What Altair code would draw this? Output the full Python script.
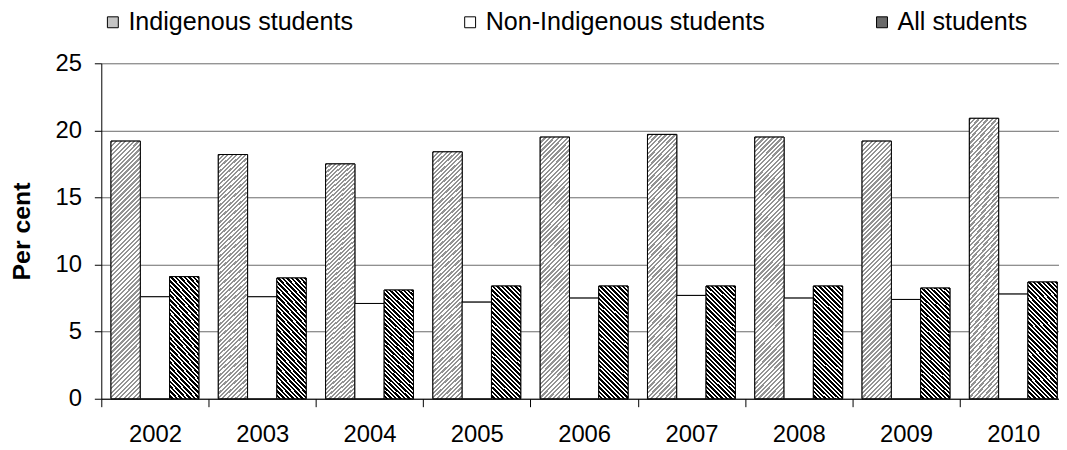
import altair as alt
import pandas as pd

# ---- data ----
years = ["2002", "2003", "2004", "2005", "2006", "2007", "2008", "2009", "2010"]
series = ["Indigenous students", "Non-Indigenous students", "All students"]
indigenous = [19.2, 18.2, 17.5, 18.4, 19.5, 19.7, 19.5, 19.2, 20.9]
non_indigenous = [7.6, 7.6, 7.1, 7.2, 7.5, 7.7, 7.5, 7.4, 7.8]
all_students = [9.1, 9.0, 8.1, 8.4, 8.4, 8.4, 8.4, 8.25, 8.7]
y_ticks = [0, 5, 10, 15, 20, 25]

rows = []
for name, vals in zip(series, [indigenous, non_indigenous, all_students]):
    for yr, v in zip(years, vals):
        rows.append({"Year": yr, "Series": name, "Value": v})
df = pd.DataFrame(rows)

FONT = "Liberation Sans"


def stripes(c1, c2, n, frac1, x1, y1, x2, y2):
    stops = []
    for k in range(n):
        a = round(k / n, 5)
        b = round((k + frac1) / n, 5)
        c = round((k + 1) / n, 5)
        stops += [
            {"offset": a, "color": c1},
            {"offset": b, "color": c1},
            {"offset": b, "color": c2},
            {"offset": c, "color": c2},
        ]
    return {"gradient": "linear", "x1": x1, "y1": y1, "x2": x2, "y2": y2, "stops": stops}


# "/" hatch, light grey on white (tall bars)
grad_ind = stripes("#939393", "#ffffff", 64, 0.5, 0, 0, 0.1252, 1.0996)
# "\" hatch, black on white (short bars)
grad_all = stripes("#000000", "#ffffff", 32, 0.55, 1, 0, 0.6976, 1.179)

x_enc = alt.X(
    "Year:N",
    sort=years,
    scale=alt.Scale(range=[0, 973], paddingInner=0, paddingOuter=0),
    axis=alt.Axis(
        title=None,
        labelAngle=0,
        labelFont=FONT,
        labelFontSize=24,
        labelColor="black",
        labelPadding=16,
        tickSize=8,
        tickColor="black",
        tickBand="extent",
        domainColor="black",
        grid=False,
    ),
)
xoff_enc = alt.XOffset(
    "Series:N",
    sort=series,
    scale=alt.Scale(domain=series, paddingInner=0, paddingOuter=0.332),
)
y_enc = alt.Y(
    "Value:Q",
    scale=alt.Scale(domain=[0, 25], nice=False),
    axis=alt.Axis(
        values=y_ticks,
        title="Per cent",
        titleFont=FONT,
        titleFontSize=25,
        titleFontWeight="bold",
        titleColor="black",
        titlePadding=21,
        labelFont=FONT,
        labelFontSize=24,
        labelColor="black",
        labelPadding=13,
        tickSize=7,
        tickColor="black",
        domainColor="black",
        grid=True,
        gridColor="#6a6a6a",
        gridWidth=1,
    ),
)

base = alt.Chart(df).encode(x=x_enc, xOffset=xoff_enc, y=y_enc)

legend_bars = base.mark_bar(stroke="black", strokeWidth=1).encode(
    color=alt.Color(
        "Series:N",
        scale=alt.Scale(domain=series, range=["#c4c4c4", "#ffffff", "#6a6a6a"]),
        legend=alt.Legend(
            title=None,
            orient="none",
            legendX=-1,
            legendY=-54,
            direction="horizontal",
            symbolType="square",
            symbolSize=121,
            symbolStrokeColor="black",
            symbolStrokeWidth=1,
            labelFont=FONT,
            labelFontSize=25.3,
            labelColor="black",
            labelOffset=3,
            labelLimit=500,
            columnPadding=105,
            padding=0,
        ),
    )
)

fill_rule = (
    alt.when(alt.datum.Series == "Indigenous students")
    .then(alt.value(grad_ind))
    .when(alt.datum.Series == "All students")
    .then(alt.value(grad_all))
    .otherwise(alt.value("#ffffff"))
)

pattern_bars = base.mark_bar(stroke="black", strokeWidth=1).encode(fill=fill_rule)

chart = (
    alt.layer(legend_bars, pattern_bars)
    .properties(
        width=965,
        height=338,
        autosize=alt.AutoSizeParams(type="none"),
        padding={"left": 94, "top": 54, "right": 0, "bottom": 60},
        background="white",
    )
    .configure_view(stroke=None)
)

chart.save("out.html", embed_options={"renderer": "svg", "actions": False})
